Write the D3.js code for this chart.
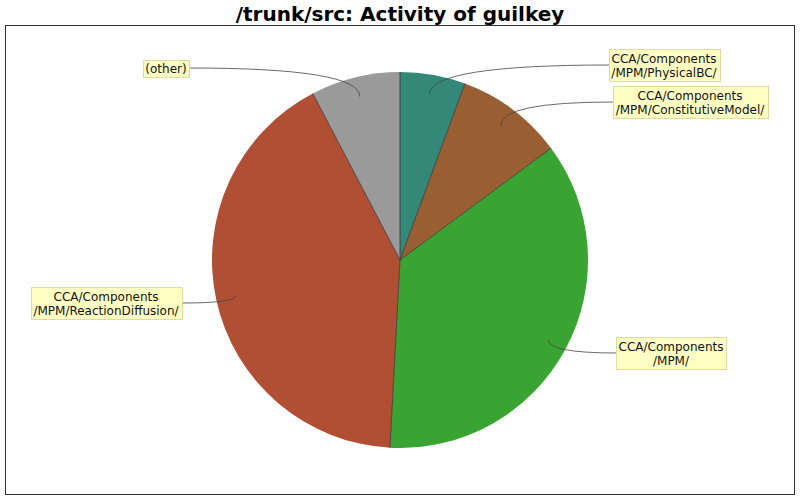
<!DOCTYPE html>
<html>
<head>
<meta charset="utf-8">
<script src="https://cdnjs.cloudflare.com/ajax/libs/d3/7.8.5/d3.min.js"></script>
<style>
  body { margin: 0; background: #fff; }
  text { font-family: "DejaVu Sans", sans-serif; }
</style>
</head>
<body>
<script>
// slice names (two-line labels split on \n) and share of activity, in %
var names = [
  "CCA/Components\n/MPM/PhysicalBC/",
  "CCA/Components\n/MPM/ConstitutiveModel/",
  "CCA/Components\n/MPM/",
  "CCA/Components\n/MPM/ReactionDiffusion/",
  "(other)"
];
var shares = [5.61, 9.25, 35.99, 41.47, 7.68];
var colors = ["#338877", "#995f33", "#3aa433", "#b04f33", "#9a9a9a"];

// where each label box sits (centre), layout only
var labelAt = [
  { x: 664, y: 65 },
  { x: 690, y: 102 },
  { x: 671, y: 353 },
  { x: 106, y: 303 },
  { x: 166, y: 68 }
];

var W = 800, H = 500;
var cx = 400, cy = 260, R = 188;

var svg = d3.select('body').append('svg')
  .attr('width', W).attr('height', H);

svg.append('text')
  .attr('x', W / 2).attr('y', 21)
  .attr('text-anchor', 'middle')
  .style('font-size', '20px').style('font-weight', 'bold')
  .text('/trunk/src: Activity of guilkey');

svg.append('rect')
  .attr('x', 5.5).attr('y', 25.5)
  .attr('width', 789).attr('height', 469)
  .attr('fill', 'none').attr('stroke', '#333').attr('stroke-width', 1);

var pie = d3.pie().sort(null).value(function(d) { return d; });
var arcs = pie(shares);
var arc = d3.arc().innerRadius(0).outerRadius(R);

var g = svg.append('g').attr('transform', 'translate(' + cx + ',' + cy + ')');

g.selectAll('path.slice').data(arcs).enter().append('path')
  .attr('class', 'slice')
  .attr('d', arc)
  .attr('fill', function(d, i) { return colors[i]; });

// dark radial edges between slices
g.selectAll('line.edge').data(arcs).enter().append('line')
  .attr('x1', 0).attr('y1', 0)
  .attr('x2', function(d) { return R * Math.sin(d.startAngle); })
  .attr('y2', function(d) { return -R * Math.cos(d.startAngle); })
  .attr('stroke', '#333').attr('stroke-width', 0.8);

// labels + leader curves
var lineH = 14;
arcs.forEach(function(d, i) {
  var mid = (d.startAngle + d.endAngle) / 2;
  var ax = cx + 0.895 * R * Math.sin(mid);
  var ay = cy - 0.895 * R * Math.cos(mid);
  var pos = labelAt[i];
  var lines = names[i].split('\n');

  var lg = svg.append('g');
  var rect = lg.append('rect');
  var t = lg.append('text')
    .attr('text-anchor', 'middle')
    .style('font-size', '12px').style('fill', '#111');
  lines.forEach(function(s, k) {
    t.append('tspan')
      .attr('x', pos.x)
      .attr('y', pos.y + (k - (lines.length - 1) / 2) * lineH + 4.5)
      .text(s);
  });
  var bb = t.node().getBBox();
  var bw = Math.round(bb.width + 5), bh = lines.length * lineH + (lines.length > 1 ? 4 : 3);
  var bx = Math.round(pos.x - bw / 2) + 0.5, by = Math.round(pos.y - bh / 2) + 0.5;
  rect.attr('x', bx).attr('y', by).attr('width', bw).attr('height', bh)
    .attr('fill', '#ffffc4').attr('stroke', '#dddda0').attr('stroke-width', 1);

  var sx = pos.x > cx ? bx : bx + bw;
  var sy = pos.y;
  svg.insert('path', 'g + g')
    .attr('d', 'M' + sx + ',' + sy + 'Q' + ax + ',' + sy + ' ' + ax + ',' + ay)
    .attr('fill', 'none').attr('stroke', '#444').attr('stroke-width', 0.8);
});
</script>
</body>
</html>
